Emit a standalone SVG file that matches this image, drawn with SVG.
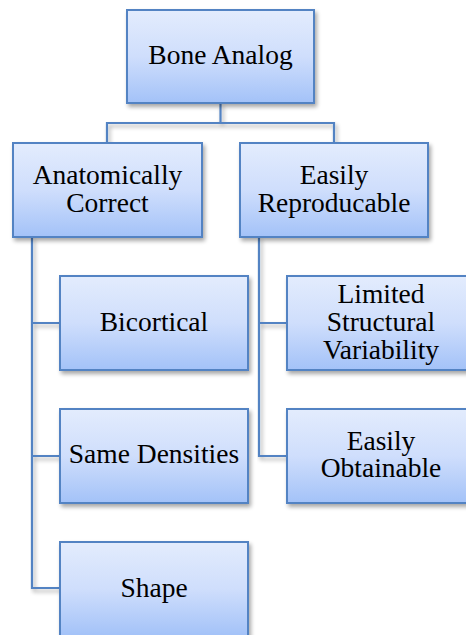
<svg xmlns="http://www.w3.org/2000/svg" width="466" height="635" viewBox="0 0 466 635">
<defs>
<linearGradient id="g" x1="0" y1="0" x2="0" y2="1">
<stop offset="0" stop-color="#e3ecfd"/>
<stop offset="0.5" stop-color="#cfdefc"/>
<stop offset="1" stop-color="#a3c2f8"/>
</linearGradient>
<filter id="sh" x="-10%" y="-10%" width="130%" height="130%">
<feGaussianBlur in="SourceAlpha" stdDeviation="2"/>
<feOffset dx="1.5" dy="2.5" result="b"/>
<feComponentTransfer><feFuncA type="linear" slope="0.35"/></feComponentTransfer>
<feMerge><feMergeNode/><feMergeNode in="SourceGraphic"/></feMerge>
</filter>
</defs>
<style>
.box{fill:url(#g);stroke:#5383c3;stroke-width:2;filter:url(#sh)}
.t{font-family:"Liberation Serif","Times New Roman",serif;font-size:27.5px;fill:#000;text-anchor:middle}
.c{fill:none;stroke:#5383c3;stroke-width:2.2;filter:url(#sh)}
</style>
<g id="connectors">
<path class="c" d="M220.5 103 V123 M107 143 V123 H334 V143"/>
<path class="c" d="M32 237 V588 H60 M32 323 H60 M32 456 H60"/>
<path class="c" d="M259 237 V456 H287 M259 323 H287"/>
</g>
<g id="bone-analog"><rect class="box" x="127" y="10" width="187" height="93"/><text class="t" x="220.5" y="64">Bone Analog</text></g>
<g id="anatomically-correct"><rect class="box" x="13" y="143" width="189" height="94"/><text class="t" x="107.5" y="184">Anatomically</text><text class="t" x="107.5" y="212">Correct</text></g>
<g id="easily-reproducable"><rect class="box" x="240" y="143" width="188" height="94"/><text class="t" x="334" y="184">Easily</text><text class="t" x="334" y="212">Reproducable</text></g>
<g id="bicortical"><rect class="box" x="60" y="276" width="188" height="94"/><text class="t" x="154" y="331">Bicortical</text></g>
<g id="same-densities"><rect class="box" x="60" y="409" width="188" height="94"/><text class="t" x="154" y="463">Same Densities</text></g>
<g id="shape"><rect class="box" x="60" y="542" width="188" height="94"/><text class="t" x="154" y="597">Shape</text></g>
<g id="limited-structural-variability"><rect class="box" x="287" y="276" width="188" height="94"/><text class="t" x="381" y="303">Limited</text><text class="t" x="381" y="331">Structural</text><text class="t" x="381" y="359">Variability</text></g>
<g id="easily-obtainable"><rect class="box" x="287" y="409" width="188" height="94"/><text class="t" x="381" y="450">Easily</text><text class="t" x="381" y="477">Obtainable</text></g>
</svg>
